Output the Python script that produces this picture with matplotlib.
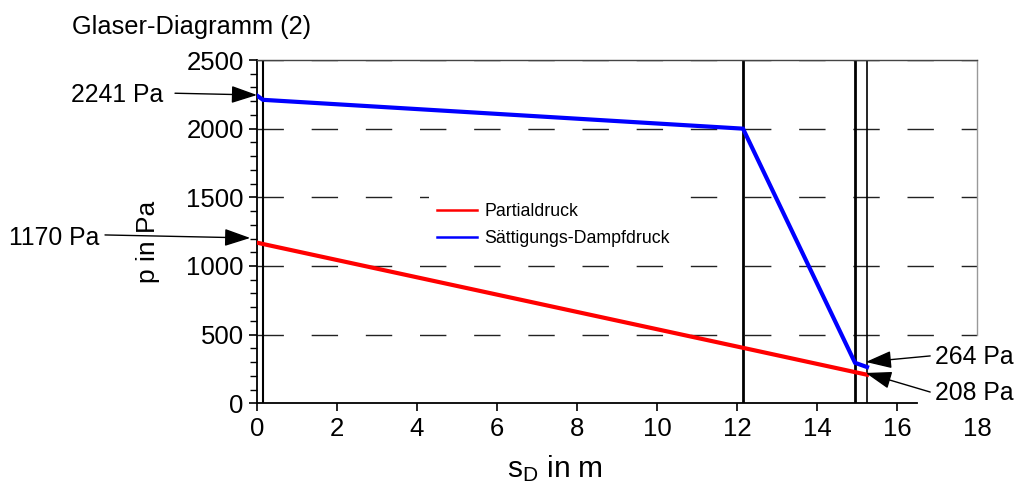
import matplotlib
matplotlib.use("Agg")
import matplotlib.pyplot as plt
from matplotlib.ticker import MultipleLocator

plt.rcParams['font.family'] = ['Liberation Sans', 'DejaVu Sans']

# data
layer_x = [0.0, 0.15, 12.15, 14.95, 15.25]
partial = [1170, 1160, 404, 227, 208]
saettigung = [2241, 2210, 2000, 295, 264]
boundaries = [0.15, 12.15, 14.95, 15.25]
boundary_lw = [1.5, 2.0, 2.0, 1.2]
grid_levels = [500, 1000, 1500, 2000, 2500]
x_ticks = [0, 2, 4, 6, 8, 10, 12, 14, 16, 18]
y_ticks = [0, 500, 1000, 1500, 2000, 2500]

W, H = 1016, 488
fig = plt.figure(figsize=(W / 100, H / 100), dpi=100)
L, R, T, B = 257, 977, 60, 403.3
ax = fig.add_axes([L / W, 1 - B / H, (R - L) / W, (B - T) / H])
ax.set_xlim(0, 18)
ax.set_ylim(0, 2500)

for g in grid_levels:
    ax.axhline(g, color='#222222', lw=1.0, linestyle=(0, (19, 20)), zorder=1)
for bx, lw in zip(boundaries, boundary_lw):
    ax.axvline(bx, color='black', lw=lw, zorder=2)

ax.plot(layer_x, partial, color='#ff0000', lw=3, label='Partialdruck', zorder=3, solid_joinstyle='miter')
ax.plot(layer_x, saettigung, color='#0000ff', lw=3, label='Sättigungs-Dampfdruck', zorder=3, solid_joinstyle='miter')

# spines
ax.spines['bottom'].set_bounds(0, 16.5)
ax.spines['left'].set_linewidth(1.3)
ax.spines['bottom'].set_linewidth(1.3)
ax.spines['top'].set_color('#444444')
ax.spines['top'].set_linewidth(1.0)
ax.spines['right'].set_bounds(500, 2500)
ax.spines['right'].set_color('#999999')
ax.spines['right'].set_linewidth(1.0)

ax.set_xticks(x_ticks)
ax.set_yticks(y_ticks)
ax.yaxis.set_minor_locator(MultipleLocator(100))
ax.tick_params(axis='both', which='major', direction='out', length=6, width=1.2,
               labelsize=18.5, colors='black')
ax.tick_params(axis='y', which='minor', direction='out', length=5, width=1.0)
ax.tick_params(axis='x', pad=4)
ax.xaxis.get_major_ticks()[-1].tick1line.set_visible(False)

leg = ax.legend(loc='upper left', bbox_to_anchor=(0.226, 0.636), fontsize=12.8,
                frameon=True, facecolor='white', edgecolor='none', framealpha=1,
                handlelength=2.25, handletextpad=0.39, labelspacing=0.57,
                borderpad=0.5, fancybox=False)
for ln in leg.get_lines():
    ln.set_linewidth(1.8)
leg.set_zorder(4)

# title and labels
fig.text(72 / W, 1 - 34 / H, 'Glaser-Diagramm (2)', fontsize=18.3, va='baseline', ha='left')
fig.text(507 / W, 1 - 477 / H, r'$\mathregular{s_D}$ in m', fontsize=21.5, va='baseline', ha='left')
fig.text(148 / W, 1 - 242 / H, 'p in Pa', fontsize=19, rotation=90, va='center', ha='center')

# annotations
arrow = dict(arrowstyle='-|>,head_length=0.8,head_width=0.27', mutation_scale=20,
             lw=1.0, color='black', shrinkA=0, shrinkB=0)
ann = [
    ('2241 Pa', (0.0, 2245), (-2.05, 2258), (-2.35, 2245), 'right'),
    ('1170 Pa', (-0.17, 1204), (-3.8, 1226), (-3.93, 1204), 'right'),
    ('264 Pa', (15.22, 301), (16.83, 345), (16.95, 338), 'left'),
    ('208 Pa', (15.22, 221), (16.83, 82), (16.95, 75), 'left'),
]
for txt, tip, tail, tpos, ha in ann:
    ax.annotate('', xy=tip, xytext=tail, arrowprops=arrow, annotation_clip=False, zorder=5)
    ax.text(tpos[0], tpos[1], txt, fontsize=17.8, ha=ha, va='center', clip_on=False)

fig.savefig('out.png', dpi=100)
